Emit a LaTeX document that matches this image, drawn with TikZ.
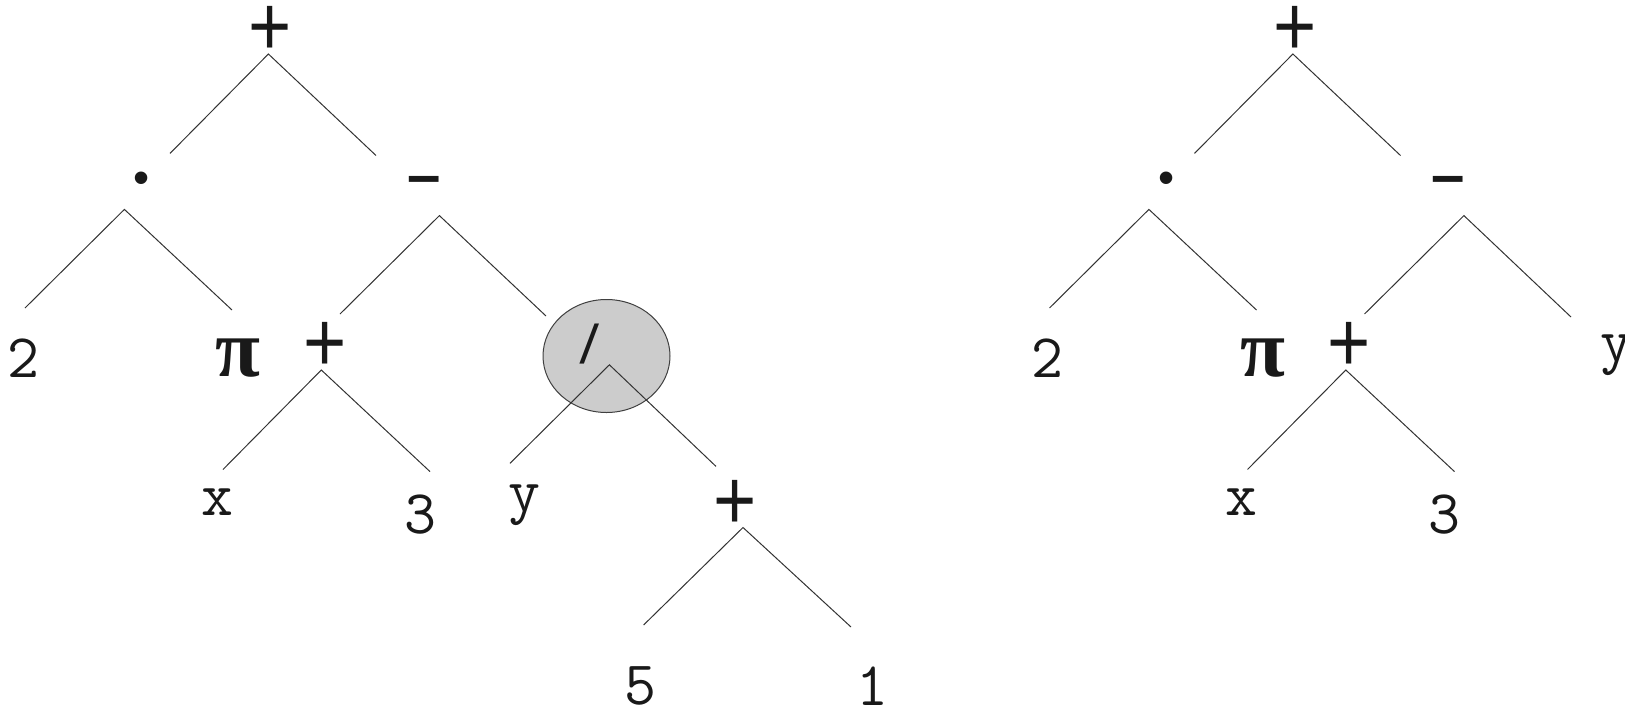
\documentclass[tikz,border=0pt]{standalone}
\usepackage{fontspec}
\usepackage{graphicx}
\usetikzlibrary{shapes.geometric}
\newfontfamily\sansf{Liberation Sans}
\newfontfamily\seriff{Liberation Serif}
\definecolor{circfill}{HTML}{CCCCCC}
\begin{document}
\begin{tikzpicture}[x=1pt,y=-1pt,
  edge/.style={draw=black!80,line width=1pt},
  lbl/.style={inner sep=0pt,outer sep=0pt,text=black!90},
  mono/.style={lbl,font=\ttfamily\fontsize{62}{62}\selectfont},
  plusop/.style={lbl,font=\sansf\fontsize{74}{74}\selectfont},
  minusop/.style={lbl,font=\sansf\bfseries\fontsize{60}{60}\selectfont},
  dotop/.style={lbl,font=\sansf\fontsize{46}{46}\selectfont},
  piop/.style={lbl,font=\seriff\bfseries\fontsize{82}{82}\selectfont},
  slashop/.style={lbl,font=\seriff\bfseries\fontsize{60}{60}\selectfont},
  hilite/.style={ellipse,draw=black!75,fill=circfill,line width=1pt,minimum width=127pt,minimum height=113pt,inner sep=0pt}
]
\useasboundingbox (0,0) rectangle (1625,707);
\clip (0,0) rectangle (1625,707);

% ---------------- left tree ----------------
\node[hilite] (Lcirc) at (606.5,356) {};
\node[plusop] (Lroot) at (270.5,31) {\scalebox{1}[1.15]{+}};
\node[dotop] (Ldot) at (142,183) {•};
\node[minusop] (Lminus) at (424,186) {–};
\node[mono] (L2) at (23,358) {2};
\node[piop] (Lpi) at (238,358) {π};
\node[plusop] (Lplus) at (325,347) {\scalebox{1}[1.15]{+}};
\node[slashop] (Lslash) at (590,344) {\scalebox{1.1}[1]{/}};
\node[mono] (Lx) at (217,502) {x};
\node[mono] (L3) at (420,515) {3};
\node[mono] (Ly) at (524,505) {y};
\node[plusop] (Lplusb) at (735,505) {\scalebox{1}[1.15]{+}};
\node[mono] (L5) at (640,686) {5};
\node[mono] (L1) at (872,686) {1};

\coordinate (LrootA) at (268.4,54);
\coordinate (LrootL) at (170,153.4);
\coordinate (LrootR) at (376,155.5);
\coordinate (LdotA) at (124.4,209.4);
\coordinate (LdotL) at (25,308);
\coordinate (LdotR) at (232,310);
\coordinate (LminusA) at (439.4,215.6);
\coordinate (LminusL) at (340,314);
\coordinate (LminusR) at (546,316);
\coordinate (LplusA) at (321.3,370);
\coordinate (LplusL) at (223,469.5);
\coordinate (LplusR) at (430,471.6);
\coordinate (LslashA) at (609.4,364.8);
\coordinate (LslashL) at (510,463.3);
\coordinate (LslashR) at (716,466.4);
\coordinate (LplusbA) at (743,527.5);
\coordinate (LplusbL) at (643.6,625);
\coordinate (LplusbR) at (851,627);

\draw[edge] (LrootL) -- (LrootA) -- (LrootR);
\draw[edge] (LdotL) -- (LdotA) -- (LdotR);
\draw[edge] (LminusL) -- (LminusA) -- (LminusR);
\draw[edge] (LplusL) -- (LplusA) -- (LplusR);
\draw[edge] (LslashL) -- (LslashA) -- (LslashR);
\draw[edge] (LplusbL) -- (LplusbA) -- (LplusbR);

% ---------------- right tree ----------------
\begin{scope}[xshift=1024.5pt]
\node[plusop] (Rroot) at (270.5,31) {\scalebox{1}[1.15]{+}};
\node[dotop] (Rdot) at (142,183) {•};
\node[minusop] (Rminus) at (424,186) {–};
\node[mono] (R2) at (23,358) {2};
\node[piop] (Rpi) at (238,358) {π};
\node[plusop] (Rplus) at (325,347) {\scalebox{1}[1.15]{+}};
\node[mono] (Ry) at (592,355) {y};
\node[mono] (Rx) at (217,502) {x};
\node[mono] (R3) at (420,515) {3};

\coordinate (RrootA) at (268.4,54);
\coordinate (RrootL) at (170,153.4);
\coordinate (RrootR) at (376,155.5);
\coordinate (RdotA) at (124.4,209.4);
\coordinate (RdotL) at (25,308);
\coordinate (RdotR) at (232,310);
\coordinate (RminusA) at (439.4,215.6);
\coordinate (RminusL) at (340,314);
\coordinate (RminusR) at (546.5,317);
\coordinate (RplusA) at (321.3,370);
\coordinate (RplusL) at (223,469.5);
\coordinate (RplusR) at (430,471.6);

\draw[edge] (RrootL) -- (RrootA) -- (RrootR);
\draw[edge] (RdotL) -- (RdotA) -- (RdotR);
\draw[edge] (RminusL) -- (RminusA) -- (RminusR);
\draw[edge] (RplusL) -- (RplusA) -- (RplusR);
\end{scope}
\end{tikzpicture}
\end{document}
